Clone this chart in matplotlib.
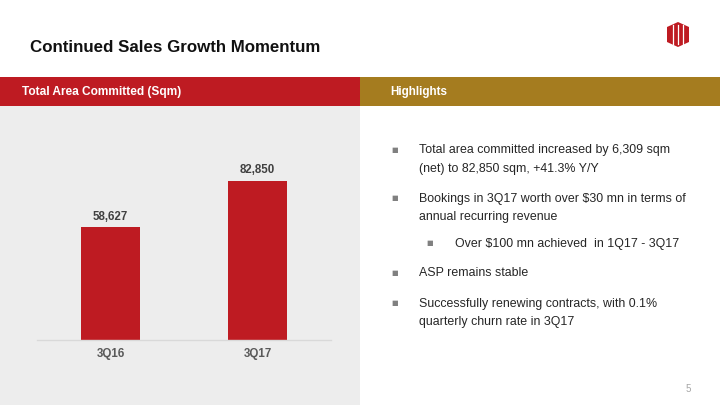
import matplotlib
matplotlib.use("Agg")
import matplotlib.pyplot as plt
from matplotlib.patches import Rectangle, Polygon

plt.rcParams['font.family'] = ['Liberation Sans', 'DejaVu Sans']

categories = ["3Q16", "3Q17"]
values = [58627, 82850]
value_labels = ["58,627", "82,850"]

title = "Continued Sales Growth Momentum"
left_header = "Total Area Committed (Sqm)"
right_header = "Highlights"
bullets = [
    (0, ["Total area committed increased by 6,309 sqm", "(net) to 82,850 sqm, +41.3% Y/Y"]),
    (0, ["Bookings in 3Q17 worth over $30 mn in terms of", "annual recurring revenue"]),
    (1, ["Over $100 mn achieved  in 1Q17 - 3Q17"]),
    (0, ["ASP remains stable"]),
    (0, ["Successfully renewing contracts, with 0.1%", "quarterly churn rate in 3Q17"]),
]
bullet_y = [150, 198, 243, 273, 303]

RED = "#BE1B22"
GOLD = "#A57C1F"
GREY = "#EDEDED"

W, H = 720, 405
fig = plt.figure(figsize=(7.2, 4.05), dpi=100)
fig.patch.set_facecolor("white")

def fx(x): return x / W
def fy(y): return 1 - y / H

# background axes for panels
bg = fig.add_axes([0, 0, 1, 1], zorder=-5)
bg.set_xlim(0, W)
bg.set_ylim(H, 0)
bg.axis("off")
bg.add_patch(Rectangle((0, 106), 360, 299, facecolor=GREY, edgecolor="none"))
bg.add_patch(Rectangle((0, 77), 360, 29, facecolor=RED, edgecolor="none"))
bg.add_patch(Rectangle((360, 77), 360, 29, facecolor=GOLD, edgecolor="none"))

# logo
cx, top, bot, hw = 678, 22, 47, 11
bg.add_patch(Polygon([(cx - hw, top + 5), (cx, top), (cx + hw, top + 5),
                      (cx + hw, bot - 5), (cx, bot), (cx - hw, bot - 5)],
                     closed=True, facecolor=RED, edgecolor="none"))
for xx in [673, 678, 683]:
    bg.plot([xx, xx], [top + 3, bot - 3], color="white", lw=0.9)

# title and headers
fig.text(fx(30), fy(48), title, fontsize=12.2, fontweight="bold", color="#111111", va="center", ha="left")
fig.text(fx(22), fy(92), left_header, fontsize=8.6, fontweight="bold", color="white", va="center", ha="left")
fig.text(fx(390), fy(92), right_header, fontsize=8.4, fontweight="bold", color="white", va="center", ha="left")

# bar chart
ax = fig.add_axes([fx(37), fy(340), fx(331) - fx(37), fy(130) - fy(340)])
ax.set_facecolor("none")
x = list(range(len(categories)))
ax.bar(x, values, width=0.4, color=RED, zorder=2)
ax.set_xlim(-0.5, 1.5)
ax.set_ylim(0, max(values) * 210 / 159)
for xi, v, lab in zip(x, values, value_labels):
    ax.annotate(lab, (xi, v), xytext=(0, 3.5), textcoords="offset points", ha="center", va="bottom",
                fontsize=8.3, fontweight="bold", color="#404040")
ax.set_xticks(x)
ax.set_xticklabels(categories, fontsize=8.3, fontweight="bold", color="#595959")
ax.tick_params(axis="x", length=0, pad=6)
ax.set_yticks([])
for s in ["top", "right", "left"]:
    ax.spines[s].set_visible(False)
ax.spines["bottom"].set_color("#D9D9D9")
ax.spines["bottom"].set_linewidth(1.0)

# bullets
for (lvl, lines), y in zip(bullets, bullet_y):
    bx = 395 if lvl == 0 else 430
    tx = 419 if lvl == 0 else 455
    fig.text(fx(bx), fy(y), "\u25a0", fontsize=5.0, color="#808080", va="center", ha="center",
             family=["DejaVu Sans"])
    for i, line in enumerate(lines):
        fig.text(fx(tx), fy(y - 1 + 18.5 * i), line, fontsize=8.9, color="#262626",
                 va="center_baseline", ha="left")

fig.text(fx(691), fy(389), "5", fontsize=7, color="#A6A6A6", ha="right", va="center")

fig.savefig("out.png", dpi=100, facecolor="white")
